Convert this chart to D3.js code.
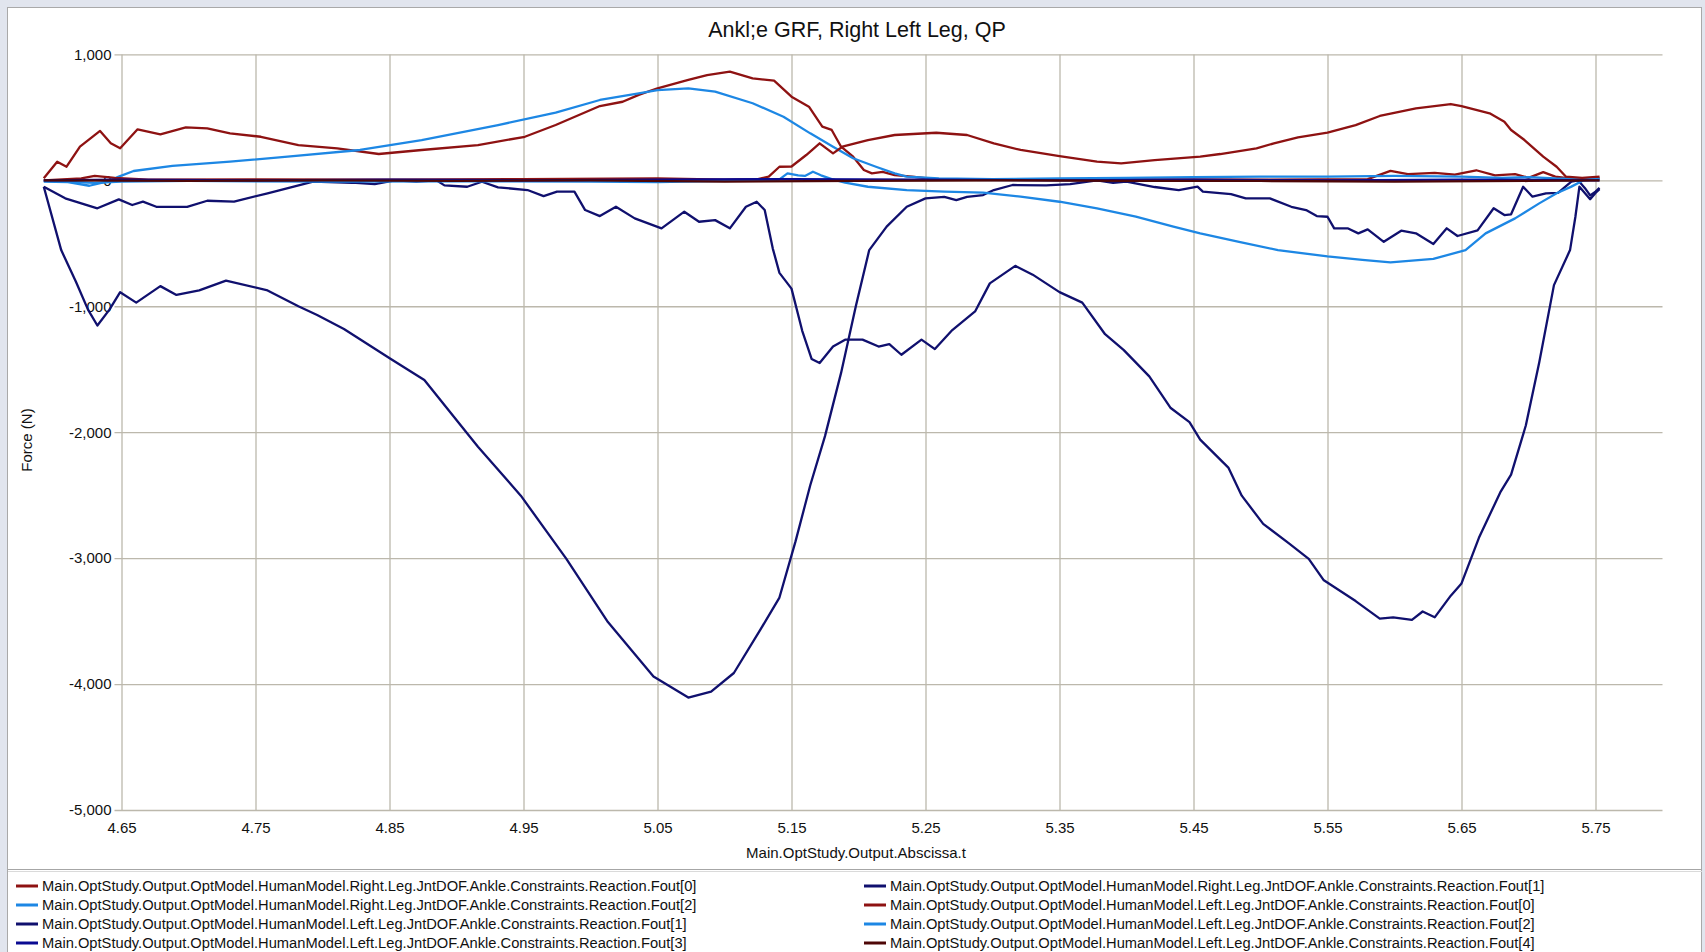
<!DOCTYPE html>
<html>
<head>
<meta charset="utf-8">
<script src="https://cdn.jsdelivr.net/npm/d3@7"></script>
<style>
  html, body { margin: 0; padding: 0; background: #e1e5ee; }
  svg { display: block; }
  text { font-family: "Liberation Sans", Arial, sans-serif; fill: #111; }
</style>
</head>
<body>
<svg id="chart" width="1705" height="952"></svg>
<script>
// Axis ticks
const xTicks = [4.65, 4.75, 4.85, 4.95, 5.05, 5.15, 5.25, 5.35, 5.45, 5.55, 5.65, 5.75];
const xTickLabels = ["4.65", "4.75", "4.85", "4.95", "5.05", "5.15", "5.25", "5.35", "5.45", "5.55", "5.65", "5.75"];
const yTicks = [1000, 0, -1000, -2000, -3000, -4000, -5000];
const yTickLabels = ["1,000", "0", "-1,000", "-2,000", "-3,000", "-4,000", "-5,000"];

// Series: [time (s), force (N)]
const rightFout0 = [[4.592,16],[4.602,148],[4.609,108],[4.619,267],[4.634,392],[4.642,294],[4.649,254],[4.662,405],[4.679,365],[4.698,421],[4.714,413],[4.731,373],[4.754,346],[4.782,280],[4.811,254],[4.842,209],[4.874,241],[4.916,280],[4.951,346],[4.974,439],[5.007,590],[5.024,624],[5.036,679],[5.050,731],[5.073,797],[5.087,836],[5.104,863],[5.121,810],[5.137,791],[5.150,664],[5.163,585],[5.173,426],[5.180,400],[5.187,267],[5.196,188],[5.204,82],[5.210,55],[5.218,68],[5.227,42],[5.240,29],[5.255,12],[5.30,5],[5.40,8],[5.50,5],[5.58,10],[5.597,75],[5.61,50],[5.63,60],[5.645,45],[5.661,80],[5.675,40],[5.69,50],[5.70,20],[5.711,65],[5.72,30],[5.735,10],[5.753,20]];
const rightFout1 = [[4.592,-51],[4.605,-554],[4.616,-805],[4.625,-1027],[4.632,-1153],[4.641,-1027],[4.649,-888],[4.661,-971],[4.679,-840],[4.691,-910],[4.708,-874],[4.728,-796],[4.759,-874],[4.782,-1000],[4.796,-1069],[4.816,-1180],[4.851,-1418],[4.876,-1585],[4.916,-2115],[4.948,-2504],[4.982,-3006],[5.013,-3508],[5.047,-3940],[5.073,-4107],[5.090,-4060],[5.107,-3912],[5.127,-3564],[5.141,-3313],[5.153,-2867],[5.164,-2421],[5.175,-2031],[5.187,-1529],[5.198,-1000],[5.208,-554],[5.221,-368],[5.236,-210],[5.250,-143],[5.264,-131],[5.273,-157],[5.281,-131],[5.293,-117],[5.301,-77],[5.315,-37],[5.340,-40],[5.358,-30],[5.378,0],[5.390,-20],[5.400,-10],[5.421,-53],[5.439,-77],[5.453,-50],[5.457,-90],[5.478,-110],[5.489,-143],[5.507,-143],[5.523,-210],[5.534,-236],[5.542,-284],[5.550,-289],[5.555,-381],[5.565,-381],[5.573,-421],[5.580,-389],[5.592,-488],[5.605,-400],[5.616,-421],[5.629,-506],[5.639,-381],[5.647,-442],[5.662,-397],[5.674,-222],[5.682,-276],[5.687,-270],[5.696,-51],[5.703,-130],[5.713,-103],[5.722,-100],[5.732,-11],[5.737,0],[5.742,-60],[5.746,-120],[5.750,-90],[5.753,-60]];
const rightFout2 = [[4.592,-10],[4.610,-15],[4.626,-43],[4.639,-10],[4.648,29],[4.659,74],[4.688,114],[4.731,148],[4.774,188],[4.828,241],[4.874,320],[4.931,439],[4.974,537],[5.007,638],[5.036,691],[5.050,717],[5.073,730],[5.093,704],[5.121,612],[5.144,505],[5.164,373],[5.181,267],[5.196,175],[5.213,108],[5.227,55],[5.236,29],[5.26,15],[5.30,10],[5.35,15],[5.40,20],[5.45,25],[5.50,30],[5.55,30],[5.60,35],[5.65,30],[5.68,20],[5.70,25],[5.72,15],[5.74,10],[5.753,15]];
const leftFout0 = [[4.592,0],[4.62,15],[4.63,35],[4.645,20],[4.67,5],[4.75,8],[4.85,5],[4.95,10],[5.05,15],[5.10,5],[5.125,10],[5.133,29],[5.141,108],[5.150,110],[5.161,201],[5.171,294],[5.181,214],[5.188,267],[5.207,320],[5.227,360],[5.258,378],[5.281,360],[5.301,294],[5.321,241],[5.350,193],[5.378,148],[5.396,135],[5.421,161],[5.455,188],[5.470,209],[5.497,254],[5.510,294],[5.528,341],[5.550,378],[5.571,439],[5.589,511],[5.616,572],[5.642,606],[5.650,590],[5.671,532],[5.682,465],[5.687,400],[5.697,320],[5.711,188],[5.721,108],[5.728,29],[5.740,20],[5.753,29]];
const leftFout1 = [[4.592,-51],[4.608,-143],[4.632,-222],[4.648,-151],[4.658,-196],[4.666,-169],[4.676,-210],[4.699,-210],[4.714,-162],[4.734,-169],[4.759,-103],[4.793,-11],[4.822,-19],[4.839,-30],[4.854,0],[4.870,-10],[4.885,0],[4.891,-40],[4.908,-51],[4.919,-11],[4.931,-56],[4.953,-77],[4.965,-125],[4.975,-90],[4.988,-90],[4.996,-236],[5.007,-284],[5.019,-210],[5.033,-302],[5.053,-381],[5.070,-249],[5.081,-329],[5.093,-316],[5.104,-381],[5.116,-210],[5.124,-170],[5.130,-236],[5.136,-540],[5.141,-735],[5.150,-860],[5.158,-1195],[5.165,-1418],[5.171,-1451],[5.181,-1320],[5.190,-1265],[5.203,-1265],[5.215,-1320],[5.223,-1300],[5.232,-1385],[5.247,-1265],[5.257,-1340],[5.270,-1189],[5.287,-1041],[5.298,-818],[5.317,-679],[5.330,-749],[5.350,-888],[5.367,-971],[5.384,-1222],[5.398,-1348],[5.417,-1557],[5.433,-1808],[5.447,-1920],[5.455,-2059],[5.476,-2281],[5.486,-2504],[5.502,-2728],[5.521,-2881],[5.536,-3006],[5.547,-3173],[5.571,-3341],[5.589,-3480],[5.599,-3470],[5.613,-3490],[5.621,-3424],[5.630,-3470],[5.642,-3298],[5.650,-3201],[5.663,-2839],[5.679,-2476],[5.687,-2337],[5.698,-1947],[5.708,-1446],[5.719,-832],[5.731,-554],[5.735,-289],[5.738,-50],[5.742,-100],[5.746,-150],[5.750,-100],[5.753,-70]];
const leftFout2 = [[4.592,-5],[4.630,-20],[4.650,-10],[4.70,-5],[4.80,-10],[4.90,-8],[5.00,-10],[5.05,-15],[5.10,-5],[5.140,0],[5.147,55],[5.155,40],[5.160,35],[5.166,68],[5.172,40],[5.180,10],[5.190,-19],[5.207,-51],[5.236,-77],[5.264,-90],[5.293,-98],[5.321,-130],[5.350,-170],[5.378,-222],[5.407,-289],[5.435,-368],[5.455,-421],[5.484,-488],[5.513,-554],[5.550,-604],[5.576,-632],[5.597,-651],[5.629,-624],[5.653,-554],[5.668,-421],[5.690,-302],[5.708,-183],[5.721,-103],[5.732,-50],[5.741,0],[5.753,10]];
const leftFout3 = [[4.592,0],[4.65,5],[4.75,0],[4.85,5],[4.95,0],[5.05,5],[5.15,10],[5.25,5],[5.35,0],[5.45,5],[5.55,0],[5.65,5],[5.753,0]];
const leftFout4 = [[4.592,0],[4.70,-5],[4.80,0],[4.90,-5],[5.00,0],[5.10,-10],[5.20,-5],[5.30,0],[5.40,-5],[5.50,-5],[5.60,-10],[5.70,-5],[5.753,0]];

const seriesNames = [
  "Main.OptStudy.Output.OptModel.HumanModel.Right.Leg.JntDOF.Ankle.Constraints.Reaction.Fout[0]",
  "Main.OptStudy.Output.OptModel.HumanModel.Right.Leg.JntDOF.Ankle.Constraints.Reaction.Fout[1]",
  "Main.OptStudy.Output.OptModel.HumanModel.Right.Leg.JntDOF.Ankle.Constraints.Reaction.Fout[2]",
  "Main.OptStudy.Output.OptModel.HumanModel.Left.Leg.JntDOF.Ankle.Constraints.Reaction.Fout[0]",
  "Main.OptStudy.Output.OptModel.HumanModel.Left.Leg.JntDOF.Ankle.Constraints.Reaction.Fout[1]",
  "Main.OptStudy.Output.OptModel.HumanModel.Left.Leg.JntDOF.Ankle.Constraints.Reaction.Fout[2]",
  "Main.OptStudy.Output.OptModel.HumanModel.Left.Leg.JntDOF.Ankle.Constraints.Reaction.Fout[3]",
  "Main.OptStudy.Output.OptModel.HumanModel.Left.Leg.JntDOF.Ankle.Constraints.Reaction.Fout[4]"
];
const seriesData = [rightFout0, rightFout1, rightFout2, leftFout0, leftFout1, leftFout2, leftFout3, leftFout4];
const seriesColors = ["#8e1212", "#10106e", "#1d87e4", "#8e1212", "#10106e", "#1d87e4", "#0a0a92", "#4e0606"];

(function drawChart() {
  const svg = d3.select("#chart");

  // Panel frame
  svg.append("rect").attr("x", 7.5).attr("y", 7.5).attr("width", 1694).attr("height", 950)
    .attr("fill", "#ffffff").attr("stroke", "#a9a9a9").attr("stroke-width", 1);

  const plotLeft = 121.5, plotRight = 1662.5, plotTop = 54.4, plotBottom = 810;
  const x = d3.scaleLinear().domain([4.65, 5.80]).range([plotLeft, plotRight]);
  const y = d3.scaleLinear().domain([-5000, 1000]).range([plotBottom, plotTop]);

  // Grid
  const grid = svg.append("g");
  grid.append("g")
    .attr("transform", `translate(0,${plotBottom})`)
    .call(d3.axisBottom(x).tickValues(xTicks).tickSize(-(plotBottom - plotTop)).tickFormat(""))
    .call(g => g.select(".domain").remove())
    .call(g => g.selectAll("line").attr("stroke", "#bcb8ac").attr("stroke-width", 1.3));
  grid.append("g")
    .attr("transform", `translate(${plotLeft - 7},0)`)
    .call(d3.axisLeft(y).tickValues(yTicks).tickSize(-(plotRight - plotLeft + 7)).tickFormat(""))
    .call(g => g.select(".domain").remove())
    .call(g => g.selectAll("line").attr("stroke", "#bcb8ac").attr("stroke-width", 1.3));

  // Tick labels
  svg.append("g")
    .attr("transform", `translate(${plotLeft - 10},0)`)
    .call(d3.axisLeft(y).tickValues(yTicks).tickSize(0).tickPadding(0)
      .tickFormat((d, i) => yTickLabels[i]))
    .call(g => g.select(".domain").remove())
    .call(g => g.selectAll("text").attr("font-size", 15).attr("font-family", "Liberation Sans, Arial, sans-serif").attr("fill", "#111"));

  svg.append("g")
    .attr("transform", `translate(0,${plotBottom + 12})`)
    .call(d3.axisBottom(x).tickValues(xTicks).tickSize(0).tickPadding(0)
      .tickFormat((d, i) => xTickLabels[i]))
    .call(g => g.select(".domain").remove())
    .call(g => g.selectAll("text").attr("font-size", 15).attr("font-family", "Liberation Sans, Arial, sans-serif").attr("fill", "#111"));

  // Titles
  svg.append("text").attr("x", 857).attr("y", 37).attr("text-anchor", "middle")
    .attr("font-size", 21.5).text("Ankl;e GRF, Right Left Leg, QP");
  svg.append("text").attr("x", 856).attr("y", 858).attr("text-anchor", "middle")
    .attr("font-size", 15).text("Main.OptStudy.Output.Abscissa.t");
  svg.append("text").attr("transform", "translate(32,440) rotate(-90)").attr("text-anchor", "middle")
    .attr("font-size", 15).text("Force (N)");

  // Series lines
  const line = d3.line().x(d => x(d[0])).y(d => y(d[1]));
  svg.append("g").selectAll("path").data(seriesData).join("path")
    .attr("d", line)
    .attr("fill", "none")
    .attr("stroke", (d, i) => seriesColors[i])
    .attr("stroke-width", 2.3)
    .attr("stroke-linejoin", "round");

  // Legend
  svg.append("line").attr("x1", 8).attr("x2", 1702).attr("y1", 869.5).attr("y2", 869.5)
    .attr("stroke", "#a6a6a6").attr("stroke-width", 1.2);
  svg.append("line").attr("x1", 8).attr("x2", 1702).attr("y1", 871.5).attr("y2", 871.5)
    .attr("stroke", "#dadada").attr("stroke-width", 1.2);

  const legend = svg.append("g");
  seriesNames.forEach((name, i) => {
    const col = i % 2, row = Math.floor(i / 2);
    const lx = col === 0 ? 16 : 864;
    const ly = 886 + row * 19;
    legend.append("line").attr("x1", lx).attr("x2", lx + 22).attr("y1", ly).attr("y2", ly)
      .attr("stroke", seriesColors[i]).attr("stroke-width", 3);
    legend.append("text").attr("x", lx + 26).attr("y", ly + 5)
      .attr("font-size", 14.7).text(name);
  });
})();
</script>
</body>
</html>
